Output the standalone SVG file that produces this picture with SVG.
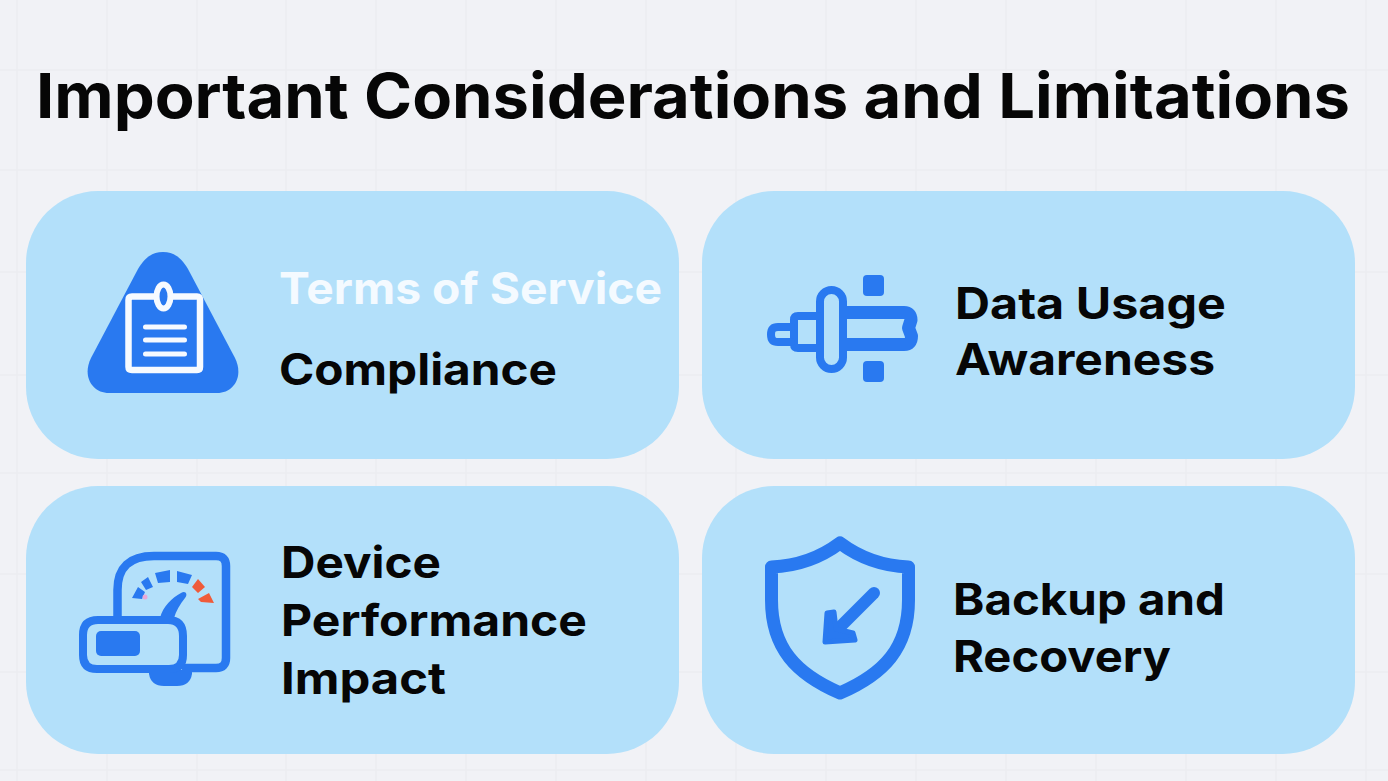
<svg xmlns="http://www.w3.org/2000/svg" width="1388" height="781" viewBox="0 0 1388 781">
<style>
.grid line{stroke:#ebecf0;stroke-width:1.5}
.card{fill:#b3e0fa}
.t{font-family:Inter,"Noto Sans",sans-serif;font-weight:700;fill:#060606}
.h{font-size:44px}
.b{fill:#2979f0}
.s{fill:none;stroke:#2979f0;stroke-linejoin:round;stroke-linecap:round}
.w{fill:none;stroke:#f6faff;stroke-linecap:round;stroke-linejoin:round}
</style>
<rect width="1388" height="781" fill="#f1f2f6"/>
<g class="grid">
<line x1="17" y1="0" x2="17" y2="781"/><line x1="107" y1="0" x2="107" y2="781"/><line x1="197" y1="0" x2="197" y2="781"/><line x1="286" y1="0" x2="286" y2="781"/><line x1="376" y1="0" x2="376" y2="781"/><line x1="466" y1="0" x2="466" y2="781"/><line x1="556" y1="0" x2="556" y2="781"/><line x1="646" y1="0" x2="646" y2="781"/><line x1="736" y1="0" x2="736" y2="781"/><line x1="826" y1="0" x2="826" y2="781"/><line x1="916" y1="0" x2="916" y2="781"/><line x1="1006" y1="0" x2="1006" y2="781"/><line x1="1096" y1="0" x2="1096" y2="781"/><line x1="1186" y1="0" x2="1186" y2="781"/><line x1="1276" y1="0" x2="1276" y2="781"/><line x1="1366" y1="0" x2="1366" y2="781"/>
<line x1="0" y1="70" x2="1388" y2="70"/><line x1="0" y1="170" x2="1388" y2="170"/><line x1="0" y1="272" x2="1388" y2="272"/><line x1="0" y1="375" x2="1388" y2="375"/><line x1="0" y1="473" x2="1388" y2="473"/><line x1="0" y1="574" x2="1388" y2="574"/><line x1="0" y1="672" x2="1388" y2="672"/><line x1="0" y1="770" x2="1388" y2="770"/>
</g>
<text class="t" x="36" y="118" font-size="62" textLength="1314" lengthAdjust="spacingAndGlyphs">Important Considerations and Limitations</text>
<g id="card-terms">
<rect class="card" x="26" y="191" width="653" height="268" rx="72"/>
<path class="b" d="M163 252C175 252 182 259 188 269L235 358C244 376 234 393 217 393L109 393C92 393 82 376 91 358L138 269C144 259 151 252 163 252Z"/>
<path class="b" d="M132 296.5H197Q200 296.5 200 300V367Q200 370 197 370H132Q128.500 370 128.500 367V300Q128.500 296.500 132 296.500Z"/>
<path class="w" stroke-width="6.500" d="M155 296.500H132Q128.500 296.500 128.500 300V367Q128.500 370 132 370H197Q200 370 200 367V300Q200 296.500 197 296.500H173"/>
<ellipse cx="163.500" cy="296.500" rx="7" ry="12" fill="#2979f0" stroke="#f6faff" stroke-width="6"/>
<path class="w" stroke-width="5" d="M145.500 327H184.500M145.500 340H184.500M145.500 354H184.500"/>
<text class="t h" x="279" y="304" textLength="383" lengthAdjust="spacingAndGlyphs" style="fill:#f4faff">Terms of Service</text>
<text class="t h" x="279" y="385" textLength="278" lengthAdjust="spacingAndGlyphs">Compliance</text>
</g>
<g id="card-data">
<rect class="card" x="702" y="191" width="653" height="268" rx="72"/>
<rect class="b" x="863" y="275" width="21" height="21" rx="4"/>
<rect class="b" x="863" y="361" width="21" height="21" rx="4"/>
<path class="s" stroke-width="13" d="M844 312.500H904Q911 312.500 911 320L908.500 328L911.500 336Q911.500 344.500 904 344.500H844"/>
<rect x="820" y="290" width="23" height="79" rx="11.500" fill="#b3e0fa" stroke="#2979f0" stroke-width="8"/>
<path class="s" stroke-width="8" d="M818 316H798Q794 316 794 320V344Q794 348 798 348H818"/>
<path class="s" stroke-width="8" d="M791 327H778Q771 327 771 334.500Q771 342 778 342H791"/>
<text class="t h" x="955" y="319" textLength="271" lengthAdjust="spacingAndGlyphs">Data Usage</text>
<text class="t h" x="955" y="375" textLength="260" lengthAdjust="spacingAndGlyphs">Awareness</text>
</g>
<g id="card-device">
<rect class="card" x="26" y="486" width="653" height="268" rx="72"/>
<path class="s" stroke-width="8.500" d="M117.500 618V590Q117.500 556 154 556H216Q226 556 226 566V658Q226 668 216 668H186"/>
<path class="b" d="M149 670H192V674Q190 686 177 686H164Q151 686 149 674Z"/>
<path class="b" d="M160 618C163 606 172 598 181 593C186 590 188 595 185 598C180 604 176 611 174 618Z"/>
<path class="s" stroke-width="8" d="M98 620H168Q183 620 183 636V655Q183 669 169 669H97Q83 669 83 655V635Q83 620 98 620Z"/>
<rect class="b" x="96" y="631" width="44" height="25" rx="5"/>
<path class="b" d="M132 598L138 587L145 592L142 599ZM141 582L148 577L153 587L146 590ZM155 573L170 570L170 582L158 583ZM177 571L192 575L188 584L177 582Z"/>
<path fill="#ef5b3a" d="M198 579L205 587L198 593L192 587ZM209 593L214 603L201 602L198 599Z"/>
<circle cx="145" cy="597" r="2.500" fill="#e8a9d8"/>
<text class="t h" x="281" y="578" textLength="160" lengthAdjust="spacingAndGlyphs">Device</text>
<text class="t h" x="281" y="636" textLength="306" lengthAdjust="spacingAndGlyphs">Performance</text>
<text class="t h" x="281" y="694" textLength="165" lengthAdjust="spacingAndGlyphs">Impact</text>
</g>
<g id="card-backup">
<rect class="card" x="702" y="486" width="653" height="268" rx="72"/>
<path class="s" stroke-width="13" d="M840 543C820 558 797 566 771.500 567V600C771.500 648 796 674 840 693C884 674 908.500 648 908.500 600V567C883 566 860 558 840 543Z"/>
<path class="s" stroke-width="12" d="M874 593L832 635"/>
<path class="b" stroke="#2979f0" stroke-width="5" stroke-linejoin="round" d="M827 613L834 612L836 629L853 633L855 640L825 642Z"/>
<text class="t h" x="953" y="615" textLength="272" lengthAdjust="spacingAndGlyphs">Backup and</text>
<text class="t h" x="953" y="672" textLength="218" lengthAdjust="spacingAndGlyphs">Recovery</text>
</g>
</svg>
